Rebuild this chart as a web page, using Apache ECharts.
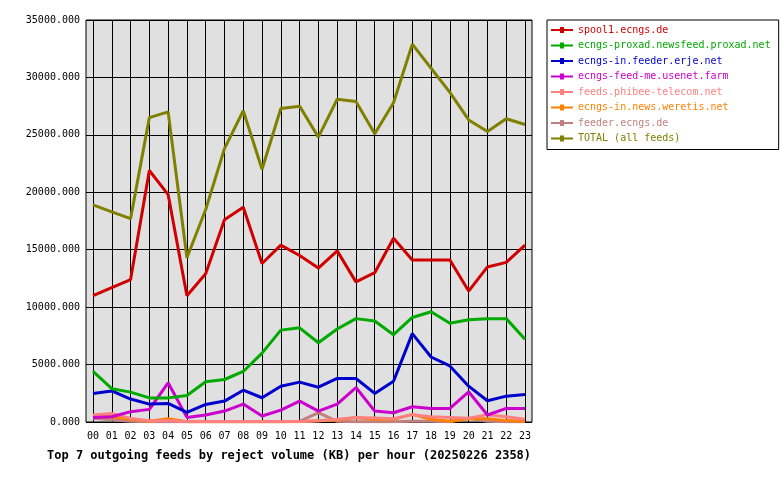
<!DOCTYPE html><html><head><meta charset="utf-8"><script src="https://cdn.jsdelivr.net/npm/echarts@6/dist/echarts.min.js"></script></head><body style="margin:0;background:#fff"><div id="c" style="width:780px;height:480px"></div><script>
const hours=['00','01','02','03','04','05','06','07','08','09','10','11','12','13','14','15','16','17','18','19','20','21','22','23'];
const names=['spool1.ecngs.de','ecngs-proxad.newsfeed.proxad.net','ecngs-in.feeder.erje.net','ecngs-feed-me.usenet.farm','feeds.phibee-telecom.net','ecngs-in.news.weretis.net','feeder.ecngs.de','TOTAL (all feeds)'];
const colors=['#d00000','#00aa00','#0000cc','#cc00cc','#ff8080','#ff8000','#c08080','#808000'];
const spool1=[11000,11700,12400,21900,19800,11000,12900,17600,18700,13800,15400,14500,13400,14900,12200,13000,16000,14100,14100,14100,11400,13500,13900,15400];
const proxad=[4400,2900,2600,2100,2100,2300,3500,3700,4400,6000,8000,8200,6900,8100,9000,8800,7600,9100,9600,8600,8900,9000,9000,7200];
const erje=[2490,2700,2000,1560,1620,840,1530,1820,2770,2110,3120,3470,3030,3790,3790,2490,3550,7690,5660,4880,3120,1850,2250,2400];
const usenetfarm=[400,460,900,1100,3410,400,610,950,1560,520,1040,1820,950,1560,3000,950,810,1330,1180,1180,2630,610,1180,1180];
const phibee=[600,750,300,100,100,50,50,50,50,50,50,50,100,230,400,350,290,640,460,400,320,640,460,230];
const weretis=[460,460,230,60,290,20,20,20,20,20,20,20,110,170,380,230,230,660,230,60,290,290,120,60];
const feeder=[320,200,60,30,30,30,30,30,30,30,30,60,810,60,30,30,30,60,60,30,320,60,30,30];
const total=[18900,18300,17700,26500,27000,14300,18500,23800,27100,22000,27300,27500,24800,28100,27900,25100,27800,32900,30800,28700,26300,25300,26400,25900];
const data=[spool1,proxad,erje,usenetfarm,phibee,weretis,feeder,total];
const font='DejaVu Sans Mono';
const icon='path://M0,9H9V7H13V9H22V11H13V13H9V11H0Z';
const ch=echarts.init(document.getElementById('c'));
ch.setOption({animation:false,textStyle:{fontFamily:font},
title:{text:'Top 7 outgoing feeds by reject volume (KB) per hour (20250226 2358)',left:42,top:445,textStyle:{fontFamily:font,fontSize:12,fontWeight:'bold',color:'#000'}},
legend:{orient:'vertical',left:547,top:20,itemGap:5.5,itemWidth:22,itemHeight:10,backgroundColor:'#fff',borderColor:'#000',borderWidth:1,padding:[5,8,6,4],
 data:names.map((n,i)=>({name:n,icon:icon,textStyle:{color:colors[i]}})),textStyle:{fontFamily:font,fontSize:10}},
grid:[{left:86,right:248,top:20,bottom:58,show:true,backgroundColor:'#e0e0e0',borderColor:'#000',borderWidth:1,z:0},
      {left:93,right:255,top:20,bottom:58,z:2}],
xAxis:[{gridIndex:0,type:'value',min:0,max:1,show:false},
 {gridIndex:1,type:'category',data:hours,boundaryGap:false,axisLine:{show:false},axisTick:{show:false},
 axisLabel:{color:'#000',fontSize:10,fontFamily:font,interval:0,margin:9},splitLine:{show:true,interval:0,lineStyle:{color:'#000'}}}],
yAxis:[{gridIndex:0,type:'value',min:0,max:35000,interval:5000,axisLine:{show:false},axisTick:{show:false},
 axisLabel:{color:'#000',fontSize:10,fontFamily:font,formatter:v=>v.toFixed(3),margin:6},splitLine:{lineStyle:{color:'#000'}}},
 {gridIndex:1,type:'value',min:0,max:35000,show:false,splitLine:{show:false}}],
series:names.map((n,i)=>({name:n,type:'line',xAxisIndex:1,yAxisIndex:1,data:data[i],symbol:'none',color:colors[i],lineStyle:{width:3,color:colors[i]},z:10-i}))
});
</script></body></html>
